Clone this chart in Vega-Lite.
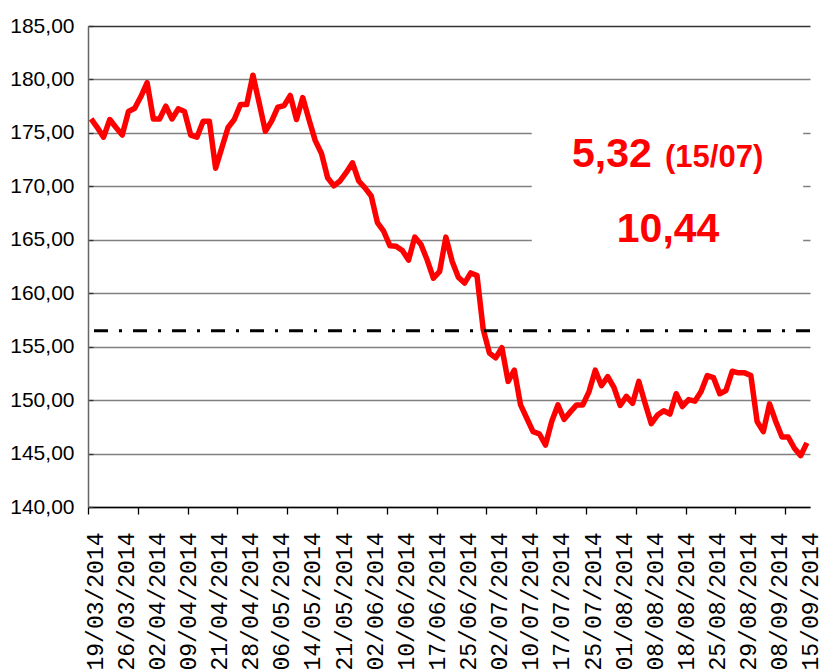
{
  "$schema": "https://vega.github.io/schema/vega-lite/v6.json",
  "width": 722,
  "height": 481,
  "autosize": "none",
  "padding": {"left": 88, "top": 26, "right": 11, "bottom": 162},
  "background": "white",
  "config": {"view": {"stroke": null}, "font": "Liberation Sans"},
  "resolve": {"axis": {"x": "independent", "y": "independent"}},
  "layer": [
    {
      "data": {"values": [
        {"n":0,"v":176.3},{"n":1,"v":175.5},{"n":2,"v":174.6},{"n":3,"v":176.25},{"n":4,"v":175.5},
        {"n":5,"v":174.8},{"n":6,"v":177.0},{"n":7,"v":177.3},{"n":8,"v":178.4},{"n":9,"v":179.7},
        {"n":10,"v":176.3},{"n":11,"v":176.3},{"n":12,"v":177.5},{"n":13,"v":176.3},{"n":14,"v":177.25},
        {"n":15,"v":177.0},{"n":16,"v":174.8},{"n":17,"v":174.6},{"n":18,"v":176.1},{"n":19,"v":176.1},
        {"n":20,"v":171.7},{"n":21,"v":173.6},{"n":22,"v":175.5},{"n":23,"v":176.25},{"n":24,"v":177.65},
        {"n":25,"v":177.65},{"n":26,"v":180.4},{"n":27,"v":177.8},{"n":28,"v":175.15},{"n":29,"v":176.1},
        {"n":30,"v":177.4},{"n":31,"v":177.55},{"n":32,"v":178.5},{"n":33,"v":176.25},{"n":34,"v":178.3},
        {"n":35,"v":176.25},{"n":36,"v":174.3},{"n":37,"v":173.1},{"n":38,"v":170.8},{"n":39,"v":170.05},
        {"n":40,"v":170.5},{"n":41,"v":171.3},{"n":42,"v":172.2},{"n":43,"v":170.5},{"n":44,"v":169.85},
        {"n":45,"v":169.1},{"n":46,"v":166.6},{"n":47,"v":165.8},{"n":48,"v":164.45},{"n":49,"v":164.4},
        {"n":50,"v":164.0},{"n":51,"v":163.1},{"n":52,"v":165.25},{"n":53,"v":164.55},{"n":54,"v":163.1},
        {"n":55,"v":161.4},{"n":56,"v":162.05},{"n":57,"v":165.25},{"n":58,"v":163.0},{"n":59,"v":161.5},
        {"n":60,"v":160.95},{"n":61,"v":161.9},{"n":62,"v":161.65},{"n":63,"v":156.6},{"n":64,"v":154.4},
        {"n":65,"v":153.95},{"n":66,"v":154.9},{"n":67,"v":151.75},{"n":68,"v":152.8},{"n":69,"v":149.55},
        {"n":70,"v":148.3},{"n":71,"v":147.05},{"n":72,"v":146.85},{"n":73,"v":145.8},{"n":74,"v":148.0},
        {"n":75,"v":149.55},{"n":76,"v":148.2},{"n":77,"v":148.9},{"n":78,"v":149.55},{"n":79,"v":149.55},
        {"n":80,"v":150.8},{"n":81,"v":152.8},{"n":82,"v":151.35},{"n":83,"v":152.2},{"n":84,"v":151.2},
        {"n":85,"v":149.5},{"n":86,"v":150.35},{"n":87,"v":149.7},{"n":88,"v":151.75},{"n":89,"v":149.7},
        {"n":90,"v":147.8},{"n":91,"v":148.6},{"n":92,"v":149.0},{"n":93,"v":148.7},{"n":94,"v":150.6},
        {"n":95,"v":149.4},{"n":96,"v":150.05},{"n":97,"v":149.9},{"n":98,"v":150.8},{"n":99,"v":152.3},
        {"n":100,"v":152.1},{"n":101,"v":150.6},{"n":102,"v":150.9},{"n":103,"v":152.7},{"n":104,"v":152.55},
        {"n":105,"v":152.55},{"n":106,"v":152.3},{"n":107,"v":148.0},{"n":108,"v":147.05},{"n":109,"v":149.65},
        {"n":110,"v":148.0},{"n":111,"v":146.55},{"n":112,"v":146.55},{"n":113,"v":145.5},{"n":114,"v":144.8},
        {"n":115,"v":146.0}
      ]},
      "mark": {"type": "line", "color": "#ff0000", "strokeWidth": 5.5, "strokeJoin": "round"},
      "encoding": {
        "x": {
          "field": "n", "type": "quantitative",
          "scale": {"domain": [-0.5, 115.5], "nice": false, "zero": false},
          "axis": {
            "orient": "bottom", "title": null,
            "values": [0, 5, 10, 15, 20, 25, 30, 35, 40, 45, 50, 55, 60, 65, 70, 75, 80, 85, 90, 95, 100, 105, 110, 115],
            "labelExpr": "['19/03/2014','26/03/2014','02/04/2014','09/04/2014','21/04/2014','28/04/2014','06/05/2014','14/05/2014','21/05/2014','02/06/2014','10/06/2014','17/06/2014','25/06/2014','02/07/2014','10/07/2014','17/07/2014','25/07/2014','01/08/2014','08/08/2014','18/08/2014','25/08/2014','29/08/2014','08/09/2014','15/09/2014'][round(datum.value/5)]",
            "ticks": false, "grid": false,
            "domain": true, "domainColor": "#000000", "domainWidth": 1.3,
            "labelAngle": 270, "labelAlign": "right", "labelBaseline": "middle",
            "labelPadding": 25, "labelOffset": 4,
            "labelFont": "Liberation Mono", "labelFontSize": 23, "labelColor": "#000000",
            "labelOverlap": false, "labelBound": false, "labelFlush": false
          }
        },
        "y": {
          "field": "v", "type": "quantitative",
          "scale": {"domain": [140, 185], "nice": false, "zero": false},
          "axis": {
            "orient": "left", "title": null,
            "values": [140, 145, 150, 155, 160, 165, 170, 175, 180, 185],
            "grid": true,
            "gridColor": {"condition": {"test": "datum.value === 185", "value": "#333333"}, "value": "#808080"},
            "gridWidth": 1.3,
            "domainColor": "#666666", "domainWidth": 1.5,
            "tickSize": -5, "tickColor": "#333333", "tickWidth": 1.3,
            "labelPadding": 19,
            "labelExpr": "replace(format(datum.value, '.2f'), '.', ',')",
            "labelFont": "Liberation Sans", "labelFontSize": 21, "labelColor": "#000000",
            "labelFlush": false, "labelOverlap": false
          }
        }
      }
    },
    {
      "data": {"values": [{}]},
      "mark": {"type": "rect", "fill": "white"},
      "encoding": {
        "x": {
          "datum": 70.8, "type": "quantitative",
          "axis": {
            "orient": "bottom", "title": null,
            "values": [-0.5, 7.5, 15.5, 23.5, 31.5, 39.5, 47.5, 55.5, 63.5, 71.5, 79.5, 87.5, 95.5, 103.5, 111.5],
            "labels": false, "domain": false, "grid": false,
            "ticks": true, "tickSize": 7, "tickColor": "#000000", "tickWidth": 1.3
          }
        },
        "x2": {"datum": 114.4},
        "y": {"datum": 175.46, "type": "quantitative", "axis": null},
        "y2": {"datum": 164.5}
      }
    },
    {
      "data": {"values": [{}]},
      "mark": {"type": "rule", "color": "#000000", "strokeWidth": 3, "strokeDash": [14, 11, 3, 11]},
      "encoding": {"y": {"datum": 156.5, "type": "quantitative", "axis": null}}
    },
    {
      "data": {"values": [{}]},
      "mark": {"type": "text", "text": "5,32", "font": "Liberation Sans", "fontWeight": "bold", "fontSize": 41, "fill": "#ff0000", "align": "left", "baseline": "alphabetic"},
      "encoding": {
        "x": {"datum": 77.26, "type": "quantitative", "axis": null},
        "y": {"datum": 171.84, "type": "quantitative", "axis": null}
      }
    },
    {
      "data": {"values": [{}]},
      "mark": {"type": "text", "text": "(15/07)", "font": "Liberation Sans", "fontWeight": "bold", "fontSize": 31, "fill": "#ff0000", "align": "left", "baseline": "alphabetic"},
      "encoding": {
        "x": {"datum": 92.2, "type": "quantitative", "axis": null},
        "y": {"datum": 171.84, "type": "quantitative", "axis": null}
      }
    },
    {
      "data": {"values": [{}]},
      "mark": {"type": "text", "text": "10,44", "font": "Liberation Sans", "fontWeight": "bold", "fontSize": 41, "fill": "#ff0000", "align": "center", "baseline": "alphabetic"},
      "encoding": {
        "x": {"datum": 92.7, "type": "quantitative", "axis": null},
        "y": {"datum": 164.82, "type": "quantitative", "axis": null}
      }
    }
  ]
}
